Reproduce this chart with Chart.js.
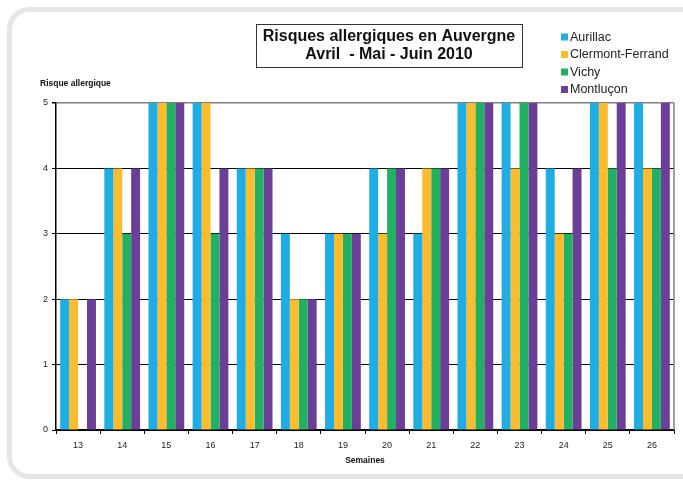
<!DOCTYPE html>
<html>
<head>
<meta charset="utf-8">
<script src="https://cdn.jsdelivr.net/npm/chart.js@4/dist/chart.umd.min.js"></script>
<style>
  html, body { margin: 0; padding: 0; background: #ffffff; }
  #wrap { width: 683px; height: 482px; position: relative; }
</style>
</head>
<body>
<div id="wrap"><canvas id="c" width="683" height="482"></canvas></div>
<script>
// Weekly allergy risk levels (0-5) per city
const weeks = ['13','14','15','16','17','18','19','20','21','22','23','24','25','26'];
const aurillac   = [2, 4, 5, 5, 4, 3, 3, 4, 3, 5, 5, 4, 5, 5];
const clermont   = [2, 4, 5, 5, 4, 2, 3, 3, 4, 5, 4, 3, 5, 4];
const vichy      = [0, 3, 5, 3, 4, 2, 3, 4, 4, 5, 5, 3, 4, 4];
const montlucon  = [2, 4, 5, 4, 4, 2, 3, 4, 4, 5, 5, 4, 5, 5];
const cityNames  = ['Aurillac', 'Clermont-Ferrand', 'Vichy', 'Montluçon'];
const cityColors = ['#1FADE3', '#FDBB2E', '#22B163', '#6B3F98'];
const yTicks = [0, 1, 2, 3, 4, 5];

const FONT = '"Liberation Sans", Arial, sans-serif';

// Rounded frame, boxed title, custom legend and y-axis caption
const decor = {
  id: 'decor',
  beforeDraw(chart) {
    const ctx = chart.ctx;
    ctx.save();
    ctx.fillStyle = '#ffffff';
    ctx.fillRect(0, 0, chart.width, chart.height);
    ctx.strokeStyle = '#e6e6e6';
    ctx.lineWidth = 5;
    ctx.beginPath();
    ctx.roundRect(9.5, 9.5, 720, 467, 20);
    ctx.stroke();
    ctx.restore();
  },
  afterDraw(chart) {
    const ctx = chart.ctx;
    const a = chart.chartArea;
    ctx.save();
    // grey right border of the plot
    ctx.strokeStyle = '#808080';
    ctx.lineWidth = 1.5;
    ctx.beginPath();
    ctx.moveTo(a.right, a.top);
    ctx.lineTo(a.right, a.bottom);
    ctx.stroke();

    // title box
    ctx.fillStyle = '#ffffff';
    ctx.fillRect(256, 24, 266, 43);
    ctx.strokeStyle = '#333333';
    ctx.lineWidth = 1;
    ctx.strokeRect(256.5, 24.5, 266, 43);
    ctx.fillStyle = '#111111';
    ctx.font = 'bold 16px ' + FONT;
    ctx.textAlign = 'center';
    ctx.textBaseline = 'middle';
    ctx.fillText('Risques allergiques en Auvergne', 389, 37);
    ctx.fillText('Avril  - Mai - Juin 2010', 389, 55);

    // legend
    ctx.font = '12.5px ' + FONT;
    ctx.textAlign = 'left';
    chart.data.datasets.forEach((ds, i) => {
      const y = 37 + i * 17.5;
      ctx.fillStyle = ds.backgroundColor;
      ctx.fillRect(561, y - 3.5, 7, 7);
      ctx.fillStyle = '#222222';
      ctx.fillText(ds.label, 570, y + 0.5);
    });

    // y-axis caption
    ctx.font = 'bold 8.5px ' + FONT;
    ctx.fillStyle = '#111111';
    ctx.fillText('Risque allergique', 40, 84);
    ctx.restore();
  }
};

const series = [aurillac, clermont, vichy, montlucon];

new Chart(document.getElementById('c'), {
  type: 'bar',
  data: {
    labels: weeks,
    datasets: series.map((vals, i) => ({
      label: cityNames[i],
      data: vals,
      backgroundColor: cityColors[i],
      borderWidth: 0,
      barPercentage: 1.0,
      categoryPercentage: 0.81
    }))
  },
  options: {
    responsive: false,
    animation: false,
    devicePixelRatio: 1,
    layout: { padding: { left: 0, top: 103, right: 9, bottom: 16 } },
    plugins: {
      legend: { display: false },
      title: { display: false },
      tooltip: { enabled: false }
    },
    scales: {
      x: {
        afterFit(scale) { scale.height = 36; },
        grid: {
          display: true,
          drawOnChartArea: false,
          offset: true,
          tickLength: 4,
          color: '#000000',
          lineWidth: 1
        },
        border: { display: true, color: '#000000', width: 1.5 },
        ticks: {
          color: '#222222',
          font: { family: FONT, size: 9 },
          padding: 6,
          maxRotation: 0
        },
        title: {
          display: true,
          text: 'Semaines',
          color: '#111111',
          font: { family: FONT, size: 8.5, weight: 'bold' },
          padding: { top: 4, bottom: 0 }
        }
      },
      y: {
        min: 0,
        max: 5,
        afterFit(scale) { scale.width = 56; },
        afterBuildTicks(scale) { scale.ticks = yTicks.map(v => ({ value: v })); },
        grid: {
          color: ctx => (ctx.tick && ctx.tick.value === 5) ? '#808080' : '#000000',
          lineWidth: ctx => (ctx.tick && ctx.tick.value === 5) ? 1.5 : 1,
          tickLength: 4,
          tickColor: '#000000'
        },
        border: { display: true, color: '#000000', width: 1.5 },
        ticks: {
          color: '#222222',
          font: { family: FONT, size: 9 },
          padding: 4
        }
      }
    }
  },
  plugins: [decor]
});
</script>
</body>
</html>
